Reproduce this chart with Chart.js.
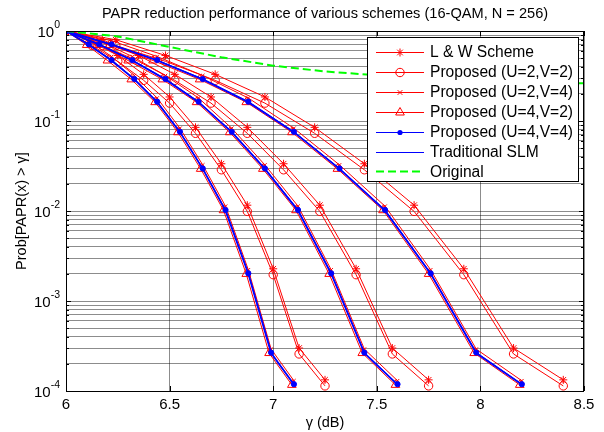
<!DOCTYPE html>
<html><head><meta charset="utf-8">
<script src="https://cdn.jsdelivr.net/npm/chart.js@4.4.1/dist/chart.umd.min.js"></script>
<style>html,body{margin:0;padding:0;background:#fff;}#wrap{width:604px;height:432px;position:relative;}</style>
</head><body><div id="wrap"><canvas id="c" width="604" height="432"></canvas></div>
<script>
const titleText = 'PAPR reduction performance of various schemes (16-QAM, N = 256)';
const xTitle = 'γ (dB)';
const yTitle = 'Prob[PAPR(x) > γ]';
const xTicks = [6, 6.5, 7, 7.5, 8, 8.5];
const xTickLabels = ['6', '6.5', '7', '7.5', '8', '8.5'];
const yTicks = [1e-4, 1e-3, 1e-2, 1e-1, 1];
const yTickExp = ['-4', '-3', '-2', '-1', '0'];
const legendLabels = ['L & W Scheme', 'Proposed (U=2,V=2)', 'Proposed (U=2,V=4)', 'Proposed (U=4,V=2)', 'Proposed (U=4,V=4)', 'Traditional SLM', 'Original'];

// gamma (dB) of the points, three groups of curves
const g1BlueX = [6, 6.11, 6.22, 6.33, 6.44, 6.55, 6.66, 6.77, 6.88, 6.99, 7.10];
const g1TriX  = [6, 6.10, 6.20, 6.315, 6.43, 6.54, 6.65, 6.76, 6.87, 6.98, 7.09];
const g1RedX  = [6, 6.125, 6.25, 6.375, 6.5, 6.625, 6.75, 6.875, 7.0, 7.125, 7.25];
const g2BlueX = [6, 6.16, 6.32, 6.48, 6.64, 6.80, 6.96, 7.12, 7.28, 7.44, 7.60];
const g2TriX  = [6, 6.15, 6.30, 6.465, 6.63, 6.79, 6.95, 7.11, 7.27, 7.43, 7.59];
const g2RedX  = [6, 6.175, 6.35, 6.525, 6.70, 6.875, 7.05, 7.225, 7.40, 7.575, 7.75];
const g3BlueX = [6, 6.22, 6.44, 6.66, 6.88, 7.10, 7.32, 7.54, 7.76, 7.98, 8.20];
const g3TriX  = [6, 6.21, 6.42, 6.645, 6.87, 7.09, 7.31, 7.53, 7.75, 7.97, 8.19];
const g3RedX  = [6, 6.24, 6.48, 6.72, 6.96, 7.20, 7.44, 7.68, 7.92, 8.16, 8.40];

// CCDF values
const lwY   = [1, 0.80, 0.535, 0.33, 0.185, 0.085, 0.0335, 0.0116, 0.00228, 0.00030, 0.000133];
const p22Y  = [1, 0.69, 0.46, 0.283, 0.158, 0.073, 0.0287, 0.0099, 0.00196, 0.000258, 0.000114];
const p24Y  = [1, 0.78, 0.52, 0.32, 0.18, 0.083, 0.0325, 0.0113, 0.00222, 0.000292, 0.00013];
const p42Y  = [1, 0.70, 0.47, 0.29, 0.162, 0.075, 0.0294, 0.0102, 0.0020, 0.000264, 0.000117];
const p44Y  = [1, 0.711, 0.476, 0.293, 0.164, 0.0759, 0.0297, 0.01026, 0.00203, 0.000267, 0.000119];
const slmY  = [1, 0.705, 0.47, 0.29, 0.162, 0.0752, 0.0294, 0.0101, 0.00201, 0.000264, 0.000118];
const origX = [6, 6.25, 6.5, 6.75, 7.0, 7.25, 7.5, 7.75, 8.0, 8.25, 8.5];
const origY = [1, 0.87, 0.665, 0.51, 0.412, 0.355, 0.322, 0.30, 0.285, 0.272, 0.262];

const RED = '#ff0000', BLUE = '#0000ff', GREEN = '#00ff00';
const FONT = "'Liberation Sans', Arial, Helvetica, sans-serif";
const pts = (xs, ys) => xs.map((x, i) => ({x: x, y: ys[i]}));

const styles = {
  lw:  {borderColor: RED, pointStyle: 'star', pointRadius: 4, pointBorderColor: RED, pointBackgroundColor: 'rgba(0,0,0,0)'},
  p22: {borderColor: RED, pointStyle: 'circle', pointRadius: 4.2, pointBorderColor: RED, pointBackgroundColor: 'rgba(0,0,0,0)'},
  p24: {borderColor: RED, pointStyle: 'crossRot', pointRadius: 2.5, pointBorderColor: RED, pointBackgroundColor: 'rgba(0,0,0,0)'},
  p42: {borderColor: RED, pointStyle: 'triangle', pointRadius: 5, pointBorderColor: RED, pointBackgroundColor: 'rgba(0,0,0,0)'},
  p44: {borderColor: BLUE, pointStyle: 'circle', pointRadius: 2.6, pointBorderColor: BLUE, pointBackgroundColor: BLUE},
  slm: {borderColor: BLUE, pointRadius: 0, borderWidth: 1.8},
  orig:{borderColor: GREEN, pointRadius: 0, borderDash: [8, 4], borderWidth: 2}
};
const groups = [
  {blue: g1BlueX, tri: g1TriX, red: g1RedX},
  {blue: g2BlueX, tri: g2TriX, red: g2RedX},
  {blue: g3BlueX, tri: g3TriX, red: g3RedX}
];
const datasets = [];
let ord = 100;
function add(key, xs, ys) {
  datasets.push(Object.assign({data: pts(xs, ys), showLine: true, borderWidth: 1, pointBorderWidth: 1, fill: false, order: ord--}, styles[key]));
}
groups.forEach(g => {
  add('lw', g.red, lwY);
  add('p22', g.red, p22Y);
  add('p24', g.blue, p24Y);
  add('p42', g.tri, p42Y);
});
groups.forEach(g => { add('p44', g.blue, p44Y); add('slm', g.blue, slmY); });
add('orig', origX, origY);

function marker(ctx, style, x, y) {
  ctx.save();
  ctx.lineWidth = 1;
  ctx.beginPath();
  if (style === 'lw') {
    const r = 4;
    ctx.strokeStyle = RED;
    ctx.moveTo(x - r, y); ctx.lineTo(x + r, y);
    ctx.moveTo(x, y - r); ctx.lineTo(x, y + r);
    const d = r * 0.707;
    ctx.moveTo(x - d, y - d); ctx.lineTo(x + d, y + d);
    ctx.moveTo(x - d, y + d); ctx.lineTo(x + d, y - d);
    ctx.stroke();
  } else if (style === 'p22') {
    ctx.strokeStyle = RED; ctx.arc(x, y, 4.2, 0, Math.PI * 2); ctx.stroke();
  } else if (style === 'p24') {
    const d = 2.5 * 0.707 + 0.6;
    ctx.strokeStyle = RED;
    ctx.moveTo(x - d, y - d); ctx.lineTo(x + d, y + d);
    ctx.moveTo(x - d, y + d); ctx.lineTo(x + d, y - d);
    ctx.stroke();
  } else if (style === 'p42') {
    const r = 5;
    ctx.strokeStyle = RED;
    for (let k = 0; k < 3; k++) {
      const a = k * 2 * Math.PI / 3;
      const px = x + Math.sin(a) * r, py = y - Math.cos(a) * r;
      if (k === 0) ctx.moveTo(px, py); else ctx.lineTo(px, py);
    }
    ctx.closePath(); ctx.stroke();
  } else if (style === 'p44') {
    ctx.fillStyle = BLUE; ctx.arc(x, y, 2.6, 0, Math.PI * 2); ctx.fill();
  }
  ctx.restore();
}

const decor = {
  id: 'decor',
  afterDraw(chart) {
    const ctx = chart.ctx, a = chart.chartArea;
    const xs = chart.scales.x, ys = chart.scales.y;
    ctx.save();
    // axes box
    ctx.strokeStyle = '#000'; ctx.lineWidth = 1;
    ctx.strokeRect(Math.round(a.left) + 0.5, Math.round(a.top) + 0.5, Math.round(a.right - a.left) - 1, Math.round(a.bottom - a.top));
    // tick marks
    ctx.beginPath();
    xTicks.forEach(v => {
      const px = Math.round(xs.getPixelForValue(v)) + 0.5;
      ctx.moveTo(px, a.bottom); ctx.lineTo(px, a.bottom - 5);
      ctx.moveTo(px, a.top); ctx.lineTo(px, a.top + 5);
    });
    ys.ticks.forEach(t => {
      const py = Math.round(ys.getPixelForValue(t.value)) + 0.5;
      const len = yTicks.includes(t.value) ? 5 : 3;
      ctx.moveTo(a.left, py); ctx.lineTo(a.left + len, py);
      ctx.moveTo(a.right, py); ctx.lineTo(a.right - len, py);
    });
    ctx.stroke();
    // text
    ctx.fillStyle = '#000';
    ctx.textAlign = 'center'; ctx.textBaseline = 'middle';
    ctx.font = '14.6px ' + FONT;
    ctx.fillText(titleText, (a.left + a.right) / 2, 14);
    ctx.font = '15px ' + FONT;
    xTicks.forEach((v, i) => ctx.fillText(xTickLabels[i], xs.getPixelForValue(v), a.bottom + 14));
    ctx.font = '14.5px ' + FONT;
    ctx.fillText(xTitle, (a.left + a.right) / 2, a.bottom + 32);
    yTicks.forEach((v, i) => {
      const py = ys.getPixelForValue(v);
      ctx.font = '10.5px ' + FONT;
      ctx.textAlign = 'right';
      const ew = ctx.measureText(yTickExp[i]).width;
      ctx.fillText(yTickExp[i], a.left - 6, py - 6);
      ctx.font = '15px ' + FONT;
      ctx.fillText('10', a.left - 6 - ew, py + 2);
    });
    ctx.save();
    ctx.translate(22, (a.top + a.bottom) / 2);
    ctx.rotate(-Math.PI / 2);
    ctx.textAlign = 'center';
    ctx.font = '14.5px ' + FONT;
    ctx.fillText(yTitle, 0, 0);
    ctx.restore();
    // legend
    const L = a.right - 217, T = a.top + 6, W = 211, H = 144;
    ctx.fillStyle = '#fff';
    ctx.fillRect(L, T, W, H);
    ctx.strokeStyle = '#000';
    ctx.strokeRect(Math.round(L) + 0.5, Math.round(T) + 0.5, W, H);
    const keys = ['lw', 'p22', 'p24', 'p42', 'p44', 'slm', 'orig'];
    keys.forEach((k, i) => {
      const y = T + 15 + i * 19.9;
      const yy = Math.round(y) + 0.5;
      ctx.save();
      ctx.beginPath();
      if (k === 'orig') { ctx.strokeStyle = GREEN; ctx.lineWidth = 2; ctx.setLineDash([8, 4]); }
      else { ctx.strokeStyle = (k === 'p44' || k === 'slm') ? BLUE : RED; ctx.lineWidth = 1; }
      ctx.moveTo(L + 9, yy); ctx.lineTo(L + 57, yy); ctx.stroke();
      ctx.restore();
      marker(ctx, k, L + 33, yy);
      ctx.fillStyle = '#000';
      ctx.font = '15.6px ' + FONT;
      ctx.textAlign = 'left'; ctx.textBaseline = 'middle';
      ctx.fillText(legendLabels[i], L + 63, y + 1);
    });
    ctx.restore();
  }
};

new Chart(document.getElementById('c'), {
  type: 'scatter',
  data: {datasets: datasets},
  options: {
    responsive: false, animation: false, devicePixelRatio: 1,
    layout: {padding: {left: 66, top: 31, right: 20, bottom: 41}},
    plugins: {legend: {display: false}, tooltip: {enabled: false}},
    scales: {
      x: {
        type: 'linear', min: 6, max: 8.5,
        afterBuildTicks: s => { s.ticks = xTicks.map(v => ({value: v})); },
        ticks: {display: false},
        grid: {drawTicks: false, color: 'rgba(0,0,0,0.45)', lineWidth: 1},
        border: {display: false},
        afterFit: s => { s.height = 0; }
      },
      y: {
        type: 'logarithmic', min: 1e-4, max: 1,
        afterBuildTicks: s => {
          const t = [];
          yTicks.forEach((d, i) => {
            if (i < yTicks.length - 1) { for (let m = 1; m <= 9; m++) t.push({value: d * m}); }
            else t.push({value: d});
          });
          s.ticks = t;
        },
        ticks: {display: false},
        grid: {drawTicks: false, color: 'rgba(0,0,0,0.45)', lineWidth: 1},
        border: {display: false},
        afterFit: s => { s.width = 0; }
      }
    }
  },
  plugins: [decor]
});
</script></body></html>
